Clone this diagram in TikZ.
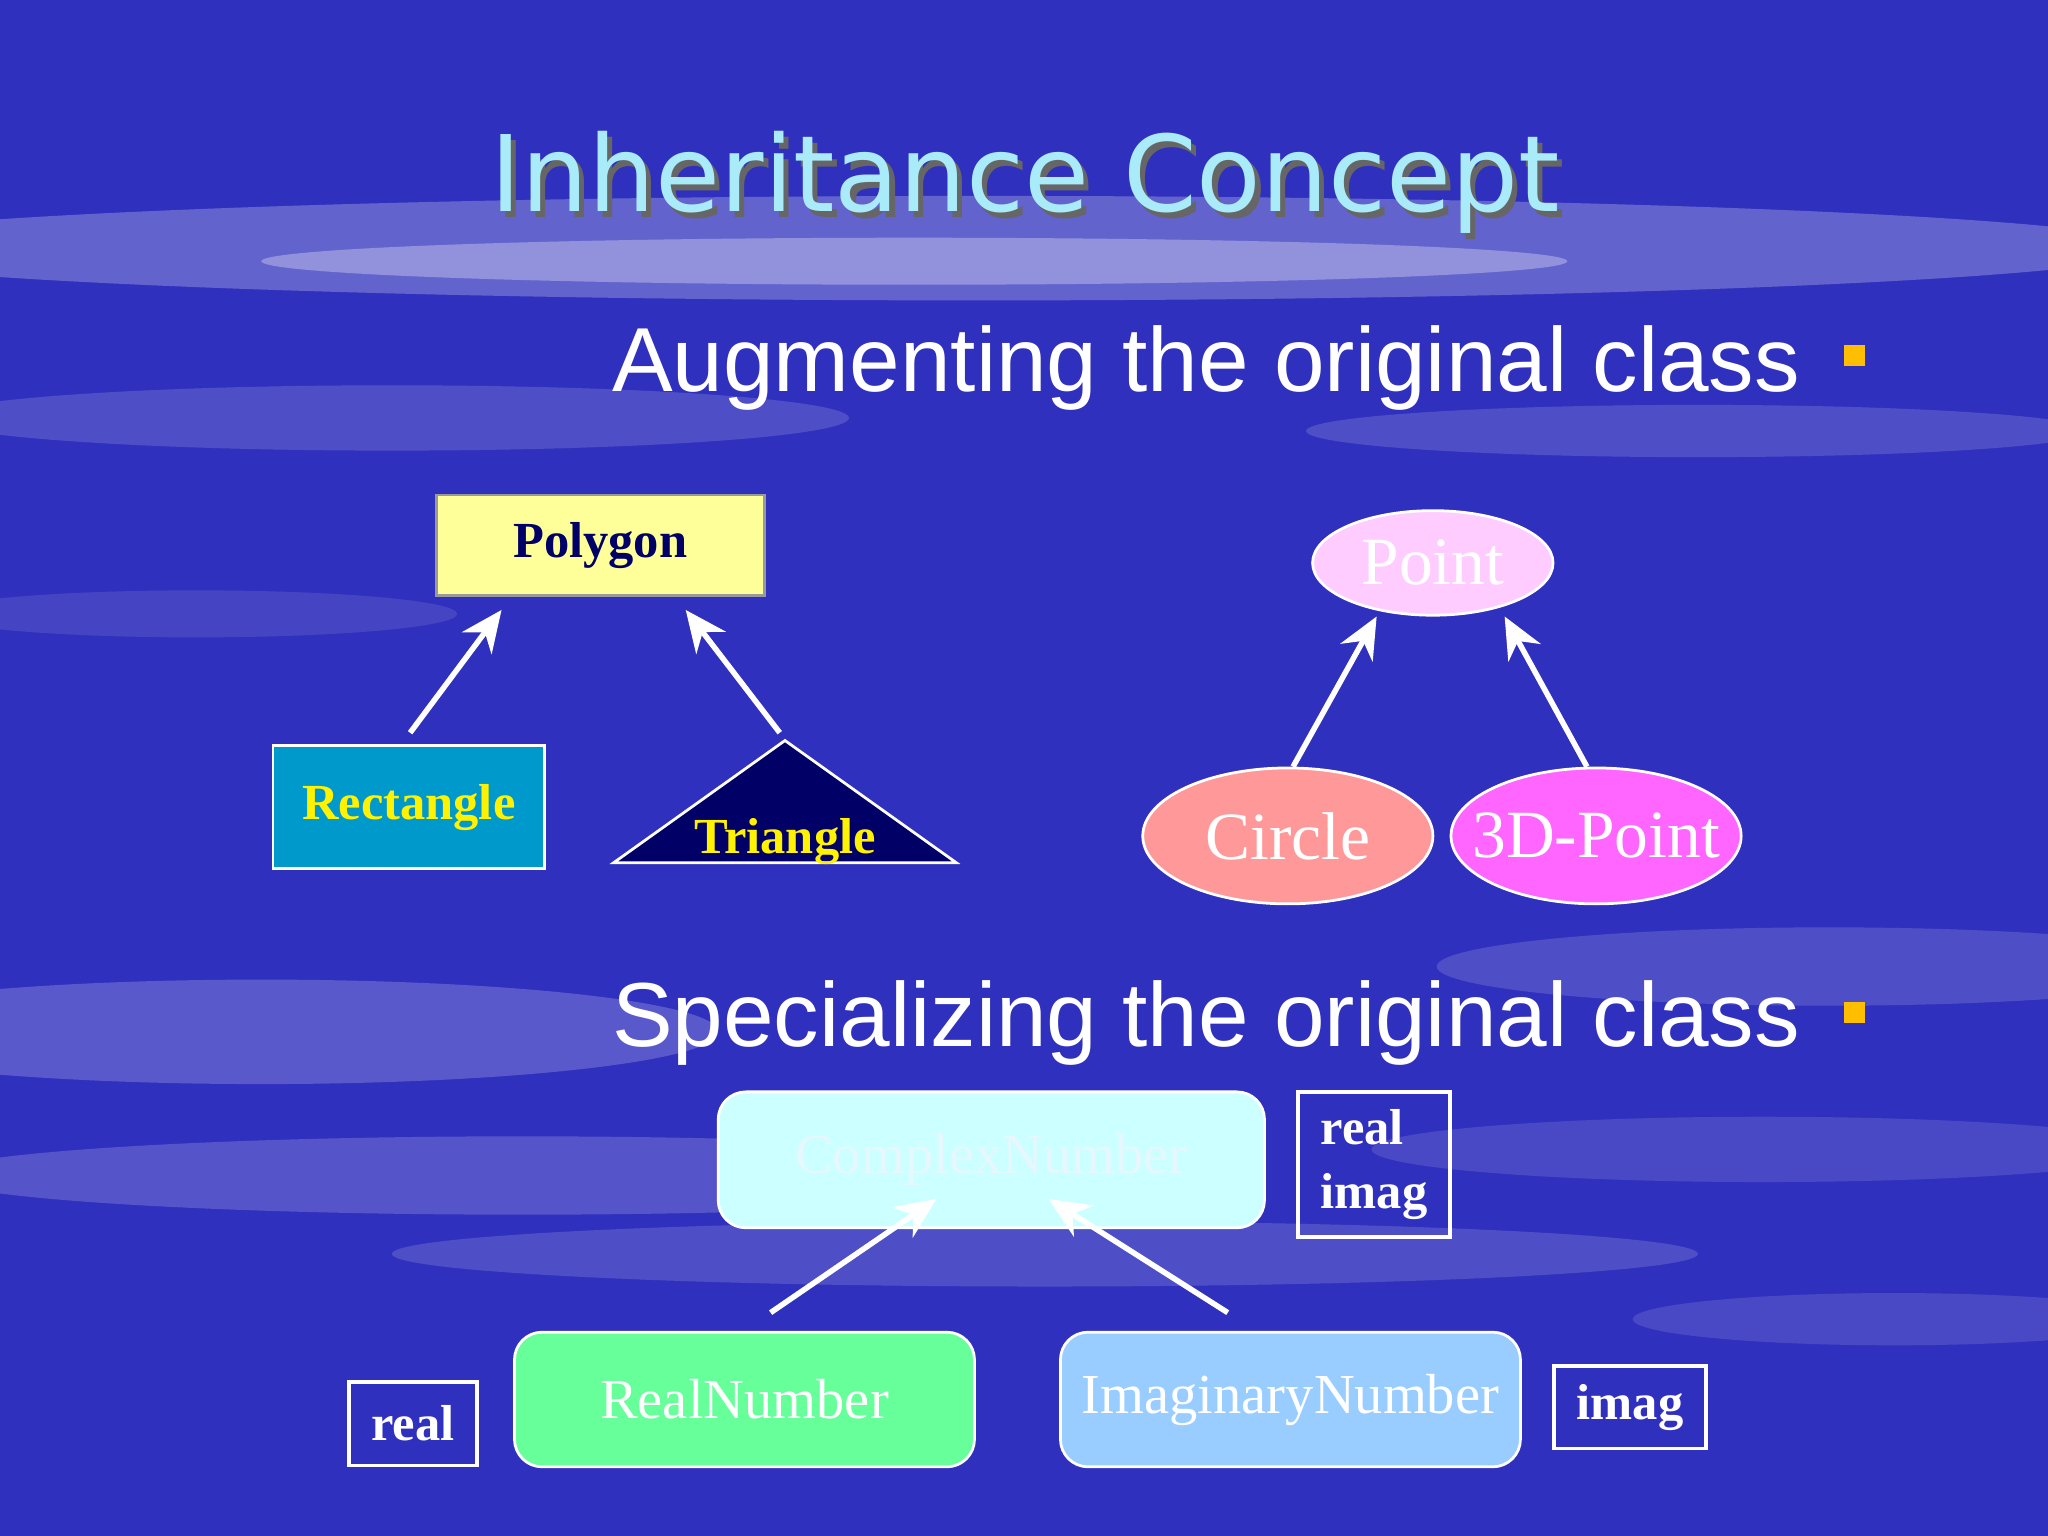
\documentclass[tikz,border=0pt]{standalone}
\usepackage{fontspec}
\setmainfont{Liberation Serif}
\newfontfamily\arialf{Liberation Sans}
\newfontfamily\titlef{DejaVu Sans}
\usetikzlibrary{arrows.meta,shapes.geometric}
\definecolor{bgblue}{RGB}{48,48,190}
\definecolor{navy}{RGB}{0,0,102}
\definecolor{polyY}{RGB}{255,255,153}
\definecolor{rectB}{RGB}{0,153,204}
\definecolor{ptpink}{RGB}{255,204,255}
\definecolor{salmon}{RGB}{255,153,153}
\definecolor{magen}{RGB}{255,102,255}
\definecolor{cyanl}{RGB}{204,255,255}
\definecolor{greenl}{RGB}{102,255,153}
\definecolor{bluel}{RGB}{153,204,255}
\definecolor{bulletc}{RGB}{255,190,0}
\definecolor{titlec}{RGB}{170,235,250}
\begin{document}
\begin{tikzpicture}[x=0.01cm,y=-0.01cm,
  arr/.style={draw=white,line width=1.2pt,-{Stealth[length=9pt,width=8pt]}},
  head/.style={font=\arialf\fontsize{19.8}{23}\selectfont,text=white,anchor=base west,inner sep=0pt},
  bul/.style={fill=bulletc,minimum size=0.16cm,inner sep=0pt},
  sq/.style={draw=black!40,line width=0.6pt,inner sep=0pt},
  tbox/.style={draw=white,line width=0.8pt,inner sep=0pt,font=\bfseries\fontsize{11}{14}\selectfont,text=white},
  ell/.style={ellipse,draw=white,line width=0.6pt,inner sep=0pt,font=\fontsize{14.7}{17}\selectfont,text=white},
  rbox/.style={draw=white,line width=0.6pt,rounded corners=6pt,inner sep=0pt,font=\fontsize{12.3}{15}\selectfont,text=white}]
\useasboundingbox (0,0) rectangle (1568,1176);
\fill[bgblue] (0,0) rectangle (1568,1176);
\foreach \cx/\cy/\rx/\ry/\op in {750/190/900/40/0.25,700/200/500/18/0.3,300/320/350/25/0.15,1300/330/300/20/0.15,200/790/350/40/0.2,1400/740/300/30/0.15,400/900/450/30/0.18,800/960/500/25/0.15,1350/880/300/25/0.12,150/470/200/18/0.1,1450/1010/200/20/0.12}
  {\fill[white,opacity=\op] (\cx,\cy) ellipse [x radius=\rx, y radius=\ry];}
\node[text=black!60,font=\titlef\fontsize{23}{27}\selectfont] at (789,144) {Inheritance Concept};
\node (title) [text=titlec,font=\titlef\fontsize{23}{27}\selectfont] at (785,140) {Inheritance Concept};
\node (h1) [head] at (468,300) {Augmenting the original class};
\node (b1) [bul] at (1420,272) {};
\node (h2) [head] at (468,801) {Specializing the original class};
\node (b2) [bul] at (1420,775) {};
% Polygon family
\node (poly) [fill=polyY,sq,minimum width=2.51cm,minimum height=0.77cm,font=\bfseries\fontsize{11}{14}\selectfont,text=navy] at (459.5,417.5) {Polygon};
\node (rect) [fill=rectB,draw=white!70,line width=0.6pt,inner sep=0pt,minimum width=2.08cm,minimum height=0.94cm,font=\bfseries\fontsize{11}{14}\selectfont,text=yellow] at (313,618) {Rectangle};
\node (tri) [draw=white,line width=0.6pt,fill=navy,isosceles triangle,isosceles triangle apex angle=109,shape border rotate=90,inner sep=0pt,minimum width=2.62cm,minimum height=0.93cm] at (601,618.5) {};
\node (trit) [font=\bfseries\fontsize{11}{14}\selectfont,text=yellow] at (601,644) {Triangle};
\coordinate (r1) at (314,561); \coordinate (p1) at (384,467);
\coordinate (t1) at (597,561); \coordinate (p2) at (525,467);
\draw[arr] (r1) -- (p1);
\draw[arr] (t1) -- (p2);
% Point family
\node (pt) [ell,fill=ptpink,minimum width=1.84cm,minimum height=0.8cm] at (1097,431) {Point};
\node (circ) [ell,fill=salmon,minimum width=2.22cm,minimum height=1.04cm] at (986,640) {Circle};
\node (p3d) [ell,fill=magen,minimum width=2.22cm,minimum height=1.04cm,inner xsep=-9pt] at (1222,640) {3D-Point};
\coordinate (c1) at (990,587); \coordinate (q1) at (1054,472);
\coordinate (d1) at (1215,587); \coordinate (q2) at (1152,472);
\draw[arr] (c1) -- (q1);
\draw[arr] (d1) -- (q2);
% Complex
\node (cx) [rbox,fill=cyanl,minimum width=4.18cm,minimum height=1.04cm,text=white!90!cyan] at (759,888) {ComplexNumber};
\node (ri) [tbox,minimum width=1.16cm,minimum height=1.11cm,align=left] at (1052,891.5) {real\\imag};
\node (rn) [rbox,fill=greenl,minimum width=3.52cm,minimum height=1.03cm] at (570,1071.5) {RealNumber};
\node (in) [rbox,fill=bluel,minimum width=3.52cm,minimum height=1.03cm] at (988,1071.5) {ImaginaryNumber};
\node (rl) [tbox,minimum width=0.98cm,minimum height=0.64cm] at (316,1090) {real};
\node (im) [tbox,minimum width=1.16cm,minimum height=0.63cm] at (1248,1077.5) {imag};
\coordinate (e1) at (590,1005); \coordinate (f1) at (717,918);
\coordinate (e2) at (940,1005); \coordinate (f2) at (803,918);
\draw[arr] (e1) -- (f1);
\draw[arr] (e2) -- (f2);
\end{tikzpicture}
\end{document}
